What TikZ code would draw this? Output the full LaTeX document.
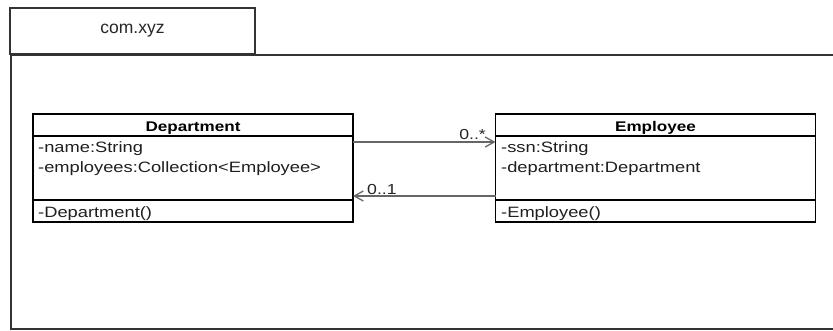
\documentclass[tikz,border=0pt]{standalone}
\usepackage{fontspec}
\setmainfont{Liberation Sans}
\newfontfamily\umlfont{Liberation Sans}[FakeStretch=1.22]
\usetikzlibrary{arrows.meta}
\definecolor{pkgline}{HTML}{333333}
\definecolor{assoc}{HTML}{666666}
\tikzset{
  pkgbox/.style={draw=pkgline, line width=1.8pt, fill=white},
  classbox/.style={draw=black, line width=1.2pt, fill=white, inner sep=0pt, minimum width=320pt, minimum height=108pt},
  sepline/.style={draw=black, line width=1.2pt},
  umltxt/.style={font=\umlfont\fontsize{15}{20}\selectfont, inner sep=0pt, anchor=base west, text=black!88},
  umltitle/.style={font=\umlfont\bfseries\fontsize{14}{16}\selectfont, inner sep=0pt, anchor=base},
  assocline/.style={draw=assoc, line width=1.6pt, -{Straight Barb[length=9pt,width=10pt,line width=1.3pt]}},
  multlbl/.style={font=\umlfont\fontsize{14.5}{16}\selectfont, inner sep=0pt, text=black!85},
}
\begin{document}
\begin{tikzpicture}[x=1pt,y=-1pt]
\useasboundingbox (0,0) rectangle (833,330);
% package
\node[pkgbox, minimum width=245pt, minimum height=46pt, inner sep=0pt] (tab) at (132.5,31) {};
\node[font=\fontsize{17.5}{20}\selectfont, inner sep=0pt, text=black!85] (pkgname) at (tab.center) {com.xyz};
\begin{scope}
\clip (0,0) rectangle (833,330);
\node[pkgbox, minimum width=840pt, minimum height=274pt, inner sep=0pt, anchor=north west] (pkg) at (10,54) {};
\end{scope}
% Department class
\node[classbox] (dept) at (193,168) {};
\coordinate (d1) at (33,136);
\coordinate (d2) at (353,136);
\coordinate (d3) at (33,200);
\coordinate (d4) at (353,200);
\draw[sepline] (d1) -- (d2);
\draw[sepline] (d3) -- (d4);
\node[umltitle] (dtitle) at (193,131) {Department};
\node[umltxt] (da1) at (38,152.5) {-name:String};
\node[umltxt] (da2) at (38,172.5) {-employees:Collection<Employee>};
\node[umltxt] (dm1) at (38,217.5) {-Department()};
% Employee class
\node[classbox] (emp) at (655.5,168) {};
\coordinate (e1) at (495.5,136);
\coordinate (e2) at (815.5,136);
\coordinate (e3) at (495.5,200);
\coordinate (e4) at (815.5,200);
\draw[sepline] (e1) -- (e2);
\draw[sepline] (e3) -- (e4);
\node[umltitle] (etitle) at (655.5,131) {Employee};
\node[umltxt] (ea1) at (501,152.5) {-ssn:String};
\node[umltxt] (ea2) at (501,172.5) {-department:Department};
\node[umltxt] (em1) at (501,217.5) {-Employee()};
% associations
\coordinate (a1s) at (353,142);
\coordinate (a1e) at (495.5,142);
\coordinate (a2s) at (495.5,196);
\coordinate (a2e) at (353,196);
\draw[assocline] (a1s) -- (a1e);
\draw[assocline] (a2s) -- (a2e);
\node[multlbl, anchor=base east] (m1) at (486,139) {0..*};
\node[multlbl, anchor=base west] (m2) at (367,194) {0..1};
\end{tikzpicture}
\end{document}
